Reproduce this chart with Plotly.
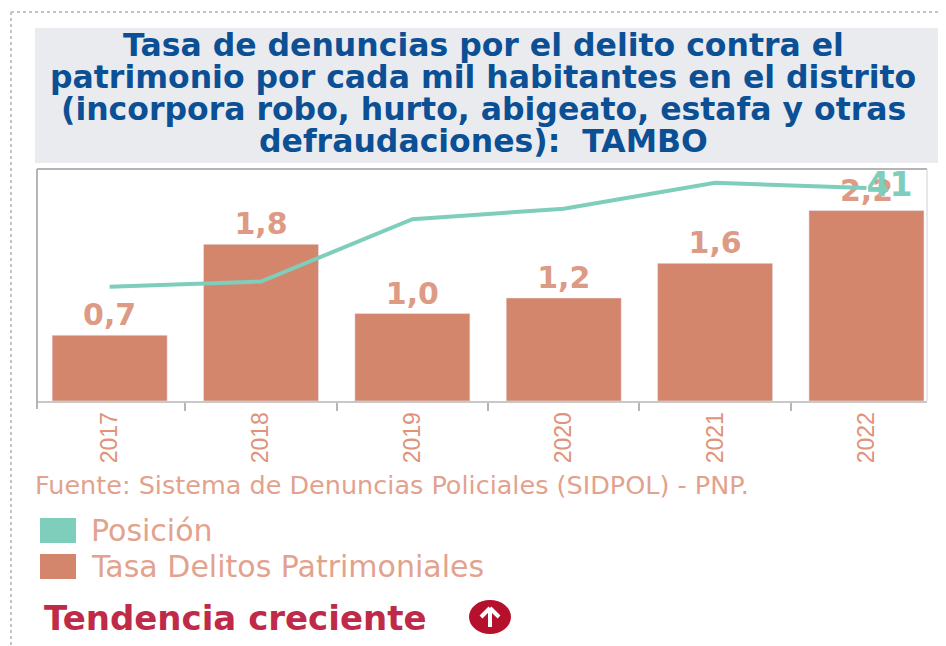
import plotly.graph_objects as go

W, H = 946, 646
OFF = 8  # the page body's own margin
L, R, T, B = 37, 927, 169, 401

years = ["2017", "2018", "2019", "2020", "2021", "2022"]
tasa = [0.76, 1.81, 1.01, 1.19, 1.59, 2.2]
tasa_labels = ["0,7", "1,8", "1,0", "1,2", "1,6", "2,2"]
posicion = [22, 23, 35, 37, 42, 41]
posicion_labels = ["", "", "", "", "", "41"]
series_names = ["Posición", "Tasa Delitos Patrimoniales"]
title_lines = [
    "Tasa de denuncias por el delito contra el",
    "patrimonio por cada mil habitantes en el distrito",
    "(incorpora robo, hurto, abigeato, estafa y otras",
    "defraudaciones):  TAMBO",
]
source = "Fuente: Sistema de Denuncias Policiales (SIDPOL) - PNP."
trend = "Tendencia creciente"

SALMON = "#d4866d"
TEAL = "#7fcdbb"
TICK = "#e0937a"
LEG = "#e3a28e"
BLUE = "#0b4f95"
RED = "#bf2a48"
FONT = "DejaVu Sans"

px = lambda x: (x - L) / (R - L)
py = lambda y: (B - y) / (B - T)

fig = go.Figure()
fig.add_trace(go.Bar(
    x=years, y=tasa, name=series_names[1], marker_color=SALMON, width=0.76,
    text=tasa_labels, textposition="outside", cliponaxis=False,
    textfont=dict(family=FONT, size=30, color="#dd9a84", weight="bold"), showlegend=False,
))
fig.add_trace(go.Scatter(
    x=years, y=posicion, name=series_names[0], yaxis="y2", mode="lines+text",
    line=dict(color=TEAL, width=4), text=posicion_labels,
    textposition="middle right", cliponaxis=False,
    textfont=dict(family=FONT, size=33, color=TEAL, weight="bold"), showlegend=False,
))

def rect(x0, x1, y0, y1, color, kind="rect", layer="above"):
    return dict(type=kind, xref="paper", yref="paper", x0=px(x0), x1=px(x1), y0=py(y0), y1=py(y1),
                fillcolor=color, line_width=0, layer=layer)

def seg(x0, x1, y0, y1, color, width, dash="solid"):
    return dict(type="line", xref="paper", yref="paper", x0=px(x0), x1=px(x1), y0=py(y0), y1=py(y1),
                line=dict(color=color, width=width, dash=dash))

shapes = [
    seg(11, 946, 12, 12, "#c4c4c4", 2, "dot"),
    seg(11, 11, 12, 646, "#c4c4c4", 2, "dot"),
    rect(35, 942, 28, 163, "#e9ebef", layer="below"),
    seg(L, R, T, T, "#b5b5b5", 2),
    seg(L, L, T, B + 8, "#b5b5b5", 2),
    seg(R, R, T, B, "#d0d0d0", 1),
    rect(40, 76, 518, 543, TEAL),
    rect(40, 76, 554, 579, SALMON),
    rect(469, 511, 600, 634, "#b5102c", "circle"),
    seg(490, 490, 627, 610, "white", 4),
    seg(481, 490, 617, 608, "white", 4),
    seg(499, 490, 617, 608, "white", 4),
]

ann = []
def text(x, y, s, size, color, bold=False, anchor="left"):
    ann.append(dict(xref="paper", yref="paper", x=px(x), y=py(y), text=f"<b>{s}</b>" if bold else s,
                    showarrow=False, xanchor=anchor, yanchor="middle", borderpad=0,
                    font=dict(family=FONT, size=size, color=color)))

for line, yy in zip(title_lines, [45, 77, 109, 141]):
    text(483, yy, line, 31.5, BLUE, True, "center")
text(34, 485, source, 25.5, LEG)
text(90, 530, series_names[0], 30, LEG)
text(90, 566, series_names[1], 30, LEG)
text(43, 618, trend, 34, RED, True)

fig.update_layout(
    width=W - OFF, height=H - OFF,
    margin=dict(l=L - OFF, r=W - R, t=T - OFF, b=H - B, autoexpand=False),
    paper_bgcolor="white", plot_bgcolor="white", shapes=shapes, annotations=ann,
    xaxis=dict(type="category", range=[-0.48, 5.4], tickson="boundaries", ticks="outside",
               ticklen=8, tickcolor="#b5b5b5", tickwidth=2, showline=True, linecolor="#c8c8c8",
               linewidth=2, showgrid=False, tickangle=-90,
               tickfont=dict(family="Liberation Sans", size=23, color=TICK)),
    yaxis=dict(range=[0, 2.68], visible=False),
    yaxis2=dict(range=[0, 44.66], visible=False, overlaying="y", side="right"),
)
fig.write_html("out.html")
